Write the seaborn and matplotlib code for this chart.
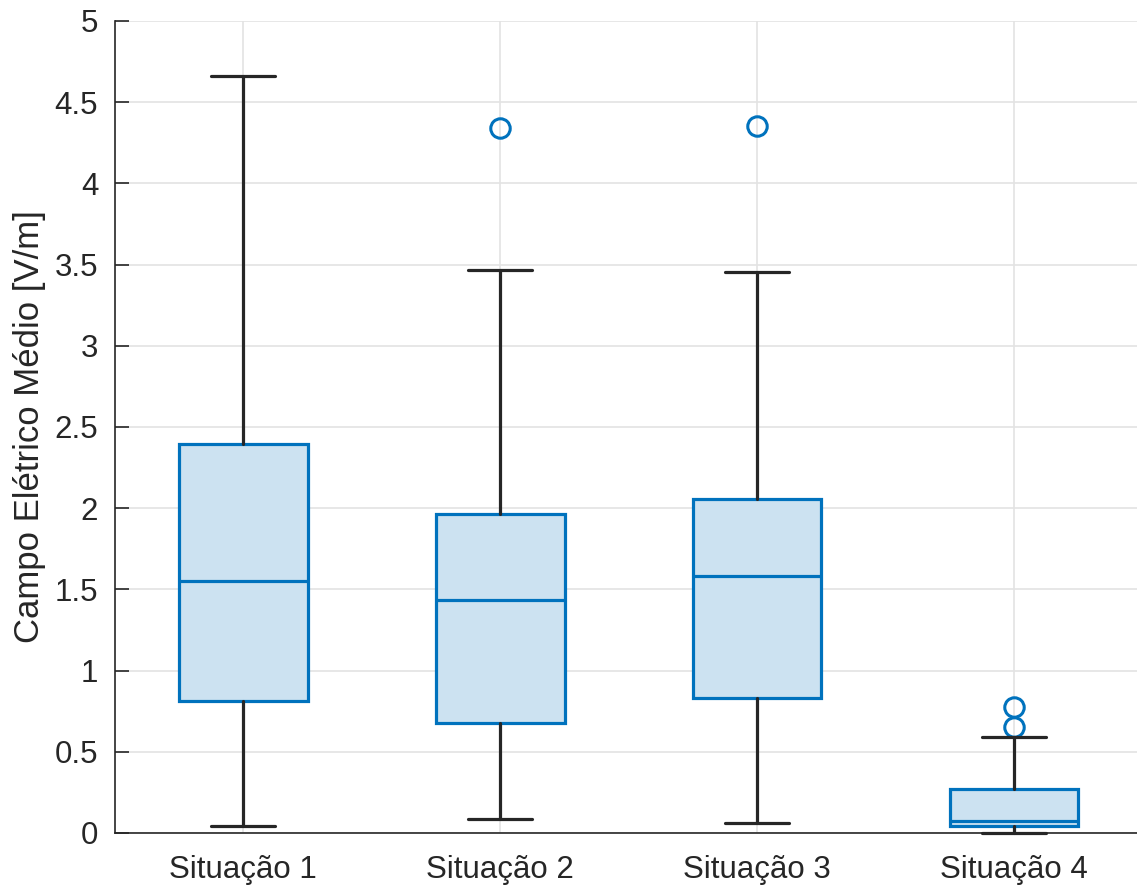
import matplotlib
matplotlib.use("Agg")
import matplotlib.pyplot as plt
import seaborn as sns

# box statistics
situacoes = ["Situação 1", "Situação 2", "Situação 3", "Situação 4"]
whislo = [0.043, 0.086, 0.062, 0.0]
q1 = [0.813, 0.677, 0.831, 0.043]
med = [1.55, 1.435, 1.583, 0.074]
q3 = [2.395, 1.964, 2.057, 0.271]
whishi = [4.66, 3.467, 3.454, 0.591]
outliers = [[], [4.34], [4.353], [0.776, 0.653]]

sns.set_style("whitegrid")
plt.rcParams["font.family"] = ["Liberation Sans", "DejaVu Sans"]

stats = []
for i, nome in enumerate(situacoes):
    stats.append({
        "label": nome,
        "whislo": whislo[i],
        "q1": q1[i],
        "med": med[i],
        "q3": q3[i],
        "whishi": whishi[i],
        "fliers": outliers[i],
    })

azul = "#0072BD"
escuro = "#262626"

fig = plt.figure(figsize=(11.37, 8.85), dpi=100)
ax = fig.add_axes([0.101, 0.0588, 0.904, 0.9175])

res = ax.bxp(stats, positions=[1, 2, 3, 4], widths=0.5, patch_artist=True,
             boxprops=dict(facecolor="#cce2f1", edgecolor=azul, linewidth=2.3),
             medianprops=dict(color=azul, linewidth=2.3),
             whiskerprops=dict(color=escuro, linewidth=2.3),
             capprops=dict(color=escuro, linewidth=2.3),
             capwidths=0.25,
             flierprops=dict(marker="o", markerfacecolor="none", markeredgecolor=azul,
                             markersize=14, markeredgewidth=2.2),
             zorder=3)
for linha in res["caps"] + res["whiskers"]:
    linha.set_clip_on(False)
    linha.set_zorder(4)

ax.set_xlim(0.5, 4.5)
ax.set_ylim(0, 5)
ax.set_yticks([0, 0.5, 1, 1.5, 2, 2.5, 3, 3.5, 4, 4.5, 5])
ax.set_yticklabels(["0", "0.5", "1", "1.5", "2", "2.5", "3", "3.5", "4", "4.5", "5"])
ax.set_ylabel("Campo Elétrico Médio [V/m]", fontsize=25, color=escuro, labelpad=6)

ax.grid(True, color="#e3e3e3", linewidth=1.2)
ax.set_axisbelow(True)
for lado in ["top", "right"]:
    ax.spines[lado].set_visible(False)
for lado in ["left", "bottom"]:
    ax.spines[lado].set_color(escuro)
    ax.spines[lado].set_linewidth(1.2)
ax.tick_params(axis="both", direction="in", labelsize=22.5, colors=escuro)
ax.tick_params(axis="y", length=10, width=1.2, left=True, pad=12)
ax.tick_params(axis="x", length=0, pad=16)

fig.savefig("out.png", dpi=100)
